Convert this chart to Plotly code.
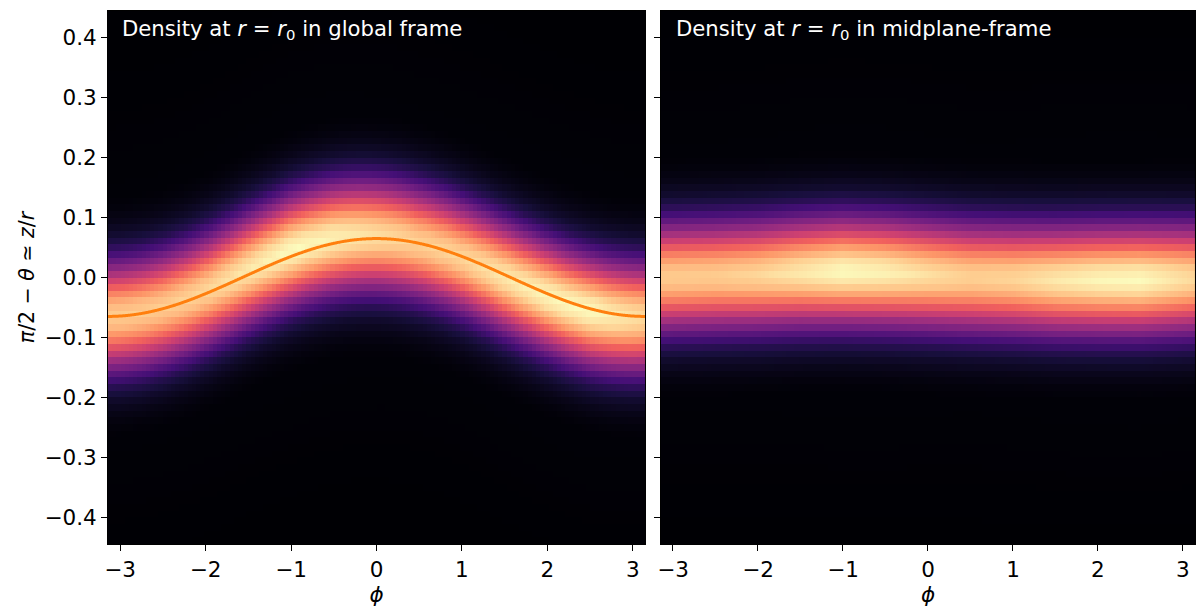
import numpy as np
import plotly.graph_objects as go

# Grid: azimuth phi and latitude pi/2 - theta (~ z/r) at r = r0
n_phi = 128
n_lat = 80
phi_edges = np.linspace(-np.pi, np.pi, n_phi + 1)
lat_edges = np.linspace(-0.445, 0.445, n_lat + 1)
phi = 0.5 * (phi_edges[1:] + phi_edges[:-1])
lat = 0.5 * (lat_edges[1:] + lat_edges[:-1])

# Warp of the midplane: z/r = warp_amp * cos(phi - warp_phase)
warp_amp = 0.065
warp_phase = 0.0

# Vertical density profile (normalised) vs distance from the midplane
profile_dz = [0.0, 0.02, 0.04, 0.06, 0.08, 0.10, 0.12, 0.14, 0.16, 0.18, 0.20, 0.45]
profile_val = [1.00, 0.94, 0.80, 0.62, 0.44, 0.28, 0.16, 0.085, 0.042, 0.018, 0.006, 0.0]

# Azimuthal variation of peak density and of the band centre in the midplane frame
node_phi = [-3.14, -2.5, -2.0, -1.5, -1.0, -0.5, 0.0, 0.5, 1.0, 1.5, 2.0, 2.5, 3.14]
node_peak = [0.90, 0.90, 0.92, 0.96, 1.00, 0.98, 0.94, 0.91, 0.92, 0.96, 0.99, 1.00, 0.93]
node_shift = [0.000, 0.002, 0.004, 0.008, 0.010, 0.008, 0.004, 0.000, -0.002, -0.004, -0.004, -0.004, -0.002]

peak = np.interp(phi, node_phi, node_peak)
shift = np.interp(phi, node_phi, node_shift)
warp = warp_amp * np.cos(phi - warp_phase)


def density(centre):
    dz = np.abs(lat[:, None] - centre[None, :])
    return np.interp(dz, profile_dz, profile_val) * peak[None, :]


rho_global = density(warp + shift)
rho_mid = density(shift)

fig = go.Figure()
common = dict(colorscale="Magma", zmin=0, zmax=1, showscale=False, zsmooth=False,
              hoverinfo="skip")
fig.add_trace(go.Heatmap(x=phi, y=lat, z=rho_global, xaxis="x", yaxis="y", **common))
fig.add_trace(go.Heatmap(x=phi, y=lat, z=rho_mid, xaxis="x2", yaxis="y2", **common))

phi_line = np.linspace(-np.pi, np.pi, 600)
fig.add_trace(go.Scatter(x=phi_line, y=warp_amp * np.cos(phi_line - warp_phase),
                         mode="lines", line=dict(color="#ff7f0e", width=3, shape="spline"),
                         xaxis="x", yaxis="y", showlegend=False, hoverinfo="skip"))

font = dict(family="DejaVu Sans", size=21.5, color="black")
xticks = [-3, -2, -1, 0, 1, 2, 3]
yticks = [-0.4, -0.3, -0.2, -0.1, 0.0, 0.1, 0.2, 0.3, 0.4]
axis_common = dict(showgrid=False, zeroline=False, ticks="outside", ticklen=6,
                   tickwidth=1.2, tickcolor="black", showline=True, linecolor="black",
                   linewidth=1, mirror=True, tickfont=font)

fig.update_layout(
    width=1196, height=608,
    margin=dict(l=108, r=1, t=11, b=64),
    paper_bgcolor="white", plot_bgcolor="black",
    showlegend=False,
    xaxis=dict(domain=[0, 0.494], range=[-np.pi, np.pi], tickvals=xticks,
               title=dict(text="<i>ϕ</i>", font=font, standoff=2), **axis_common),
    xaxis2=dict(domain=[0.5087, 1], range=[-np.pi, np.pi], tickvals=xticks,
                anchor="y2",
                title=dict(text="<i>ϕ</i>", font=font, standoff=2), **axis_common),
    yaxis=dict(range=[-0.445, 0.445], tickvals=yticks, tickformat=".1f",
               title=dict(text="<i>π</i>/2 − <i>θ</i> ≃ <i>z</i>/<i>r</i>",
                          font=dict(family="DejaVu Sans", size=20.5, color="black"),
                          standoff=4), **axis_common),
    yaxis2=dict(range=[-0.445, 0.445], tickvals=yticks, showticklabels=False,
                anchor="x2", **axis_common),
)

ann_font = dict(family="DejaVu Sans", size=21.2, color="white")
fig.add_annotation(text="Density at <i>r</i> = <i>r</i><sub>0</sub> in global frame",
                   xref="x domain", yref="y domain", x=0.022, y=0.994,
                   xanchor="left", yanchor="top", showarrow=False, font=ann_font)
fig.add_annotation(text="Density at <i>r</i> = <i>r</i><sub>0</sub> in midplane-frame",
                   xref="x2 domain", yref="y2 domain", x=0.024, y=0.994,
                   xanchor="left", yanchor="top", showarrow=False, font=ann_font)

fig.write_html("out.html")
